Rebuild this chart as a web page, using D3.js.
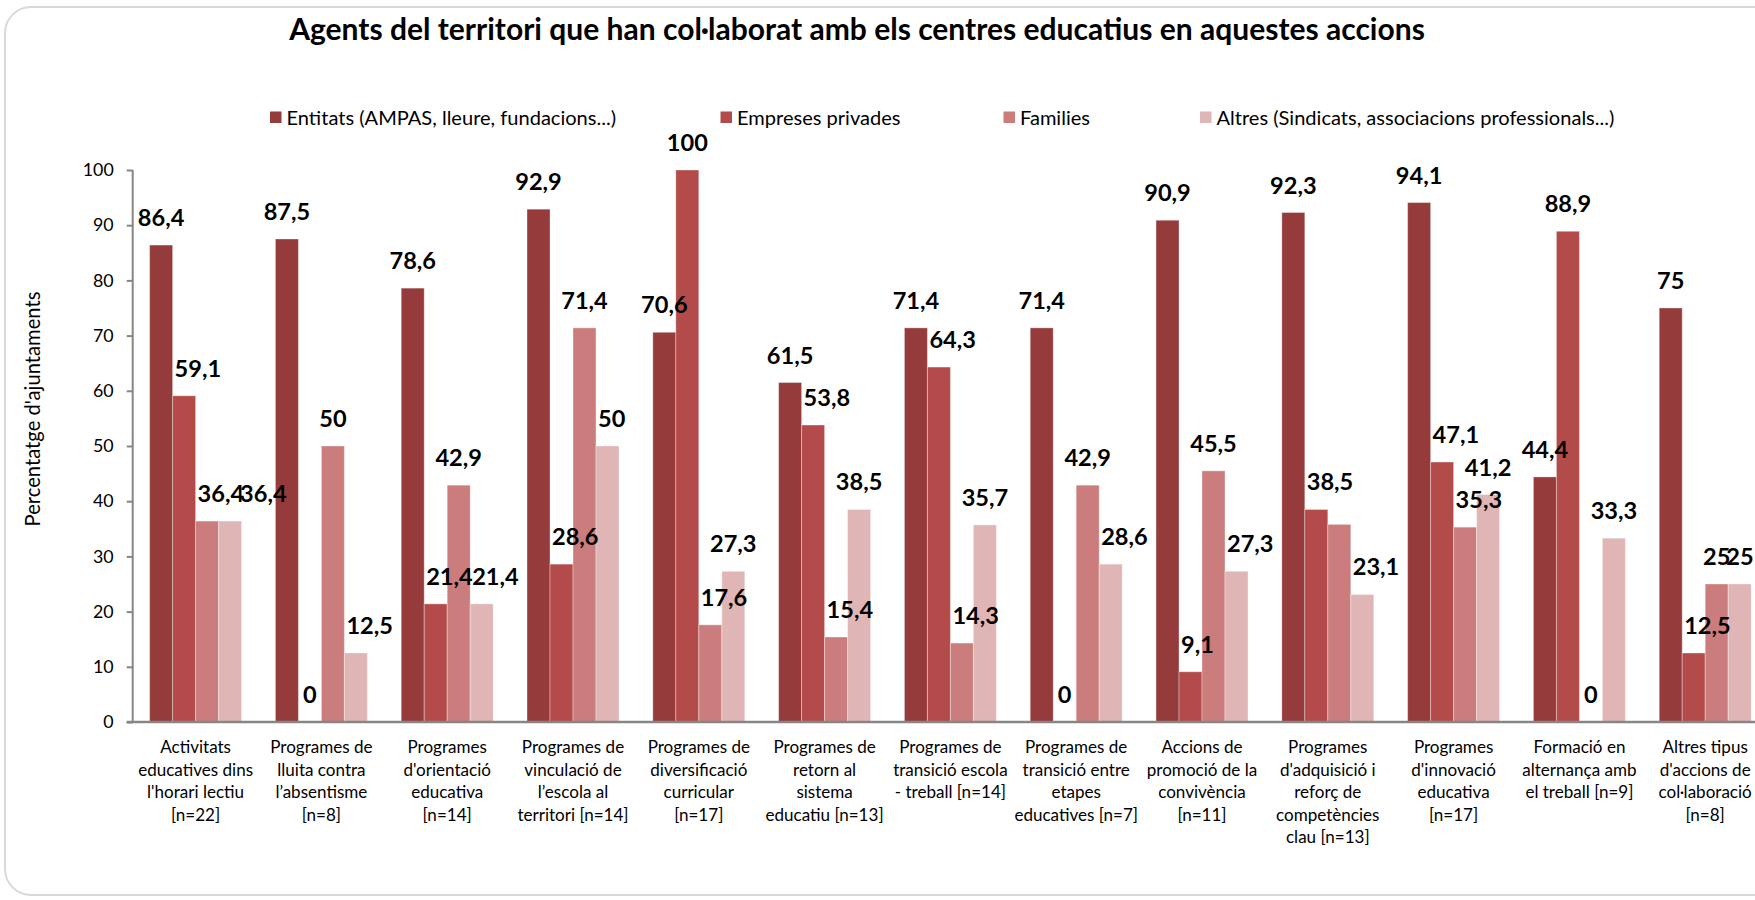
<!DOCTYPE html>
<html lang="ca">
<head>
<meta charset="utf-8">
<title>Agents del territori</title>
<script src="https://cdn.jsdelivr.net/npm/d3@7/dist/d3.min.js"></script>
<style>
  body { margin: 0; background: #fff; font-family: Lato, "Open Sans", sans-serif; }
  svg { display: block; background: #fff; }
</style>
</head>
<body>
<div id="chart"></div>
<script>
// --- data ---
var categories = [
  ["Activitats", "educatives dins", "l'horari lectiu", "[n=22]"],
  ["Programes de", "lluita contra", "l\u2019absentisme", "[n=8]"],
  ["Programes", "d'orientació", "educativa", "[n=14]"],
  ["Programes de", "vinculació de", "l\u2019escola al", "territori [n=14]"],
  ["Programes de", "diversificació", "curricular", "[n=17]"],
  ["Programes de", "retorn al", "sistema", "educatiu [n=13]"],
  ["Programes de", "transició escola", "- treball [n=14]"],
  ["Programes de", "transició entre", "etapes", "educatives [n=7]"],
  ["Accions de", "promoció de la", "convivència", "[n=11]"],
  ["Programes", "d'adquisició i", "reforç de", "competències", "clau [n=13]"],
  ["Programes", "d'innovació", "educativa", "[n=17]"],
  ["Formació en", "alternança amb", "el treball [n=9]"],
  ["Altres tipus", "d'accions de", "col·laboració", "[n=8]"]
];
var seriesNames = ["Entitats (AMPAS, lleure, fundacions...)", "Empreses privades", "Families",
                   "Altres (Sindicats, associacions professionals...)"];
var entitats = [86.4, 87.5, 78.6, 92.9, 70.6, 61.5, 71.4, 71.4, 90.9, 92.3, 94.1, 44.4, 75];
var empreses = [59.1, 0, 21.4, 28.6, 100, 53.8, 64.3, 0, 9.1, 38.5, 47.1, 88.9, 12.5];
var families = [36.4, 50, 42.9, 71.4, 17.6, 15.4, 14.3, 42.9, 45.5, 35.8, 35.3, 0, 25];
var altres   = [36.4, 12.5, 21.4, 50, 27.3, 38.5, 35.7, 28.6, 27.3, 23.1, 41.2, 33.3, 25];
var yTicks = [0, 10, 20, 30, 40, 50, 60, 70, 80, 90, 100];
// labels the original does not show (category-series)
var hiddenLabels = ["9-2"];

var colors = ["#953b3b", "#b24b49", "#ca7d7c", "#e0b5b5"];
var values = [entitats, empreses, families, altres];

var W = 1755, H = 900;
var plot = { left: 132.7, top: 170, bottom: 722, step: 125.8 };

var svg = d3.select("#chart").append("svg")
    .attr("width", W).attr("height", H);

// font size that gives a sample text the width it has in the original (Calibri there, Lato here)
function fitSize(sample, target, weight) {
  var t = svg.append("text").style("font-size", "20px")
      .style("font-weight", weight || "normal").text(sample);
  var w = t.node().getComputedTextLength();
  t.remove();
  return 20 * target / w;
}
var fsTitle = fitSize("Agents del territori que han col·laborat amb els centres educatius en aquestes accions", 1136, "bold");
var fsLegend = fitSize(seriesNames[3], 398, "normal");
var fsCat = fitSize("educatives dins", 115, "normal");
var fsTick = fitSize("100", 31, "normal");
var fsValue = fitSize("86,4", 46.5, "bold");
var fsYTitle = fitSize("Percentatge d'ajuntaments", 235, "normal");

// chart frame
svg.append("rect")
    .attr("x", 5).attr("y", 7)
    .attr("width", W + 40).attr("height", 888)
    .attr("rx", 26).attr("ry", 26)
    .attr("fill", "none").attr("stroke", "#d9d9d9").attr("stroke-width", 2);

// title
svg.append("text")
    .attr("x", 857).attr("y", 40)
    .attr("text-anchor", "middle")
    .style("font-weight", "bold")
    .style("font-size", fsTitle + "px")
    .text("Agents del territori que han col·laborat amb els centres educatius en aquestes accions");

// scales
var x0 = d3.scaleBand()
    .domain(d3.range(categories.length))
    .range([plot.left, plot.left + plot.step * categories.length])
    .paddingInner(0.269).paddingOuter(0.1345);
var x1 = d3.scaleBand()
    .domain(d3.range(seriesNames.length))
    .range([0, x0.bandwidth()]);
var y = d3.scaleLinear().domain([0, 100]).range([plot.bottom, plot.top]);

// legend
var legendX = [270, 720.5, 1003.5, 1200];
var legend = svg.append("g").selectAll("g")
    .data(seriesNames).enter().append("g")
    .attr("transform", function(d, i) { return "translate(" + legendX[i] + ",111.5)"; });
legend.append("rect").attr("width", 11.5).attr("height", 11.5)
    .attr("fill", function(d, i) { return colors[i]; });
legend.append("text").attr("x", 16.5).attr("y", 6).attr("dy", "0.35em")
    .style("font-size", fsLegend + "px").attr("fill", "#000")
    .text(function(d) { return d; });

// y axis
var yAxis = svg.append("g")
    .attr("transform", "translate(" + plot.left + ",0)")
    .call(d3.axisLeft(y).tickValues(yTicks).tickSize(6).tickPadding(13).tickFormat(d3.format("d")));
yAxis.select(".domain").attr("stroke", "#868686").attr("stroke-width", 2).attr("d", "M0," + y(100) + "V" + y(0));
yAxis.selectAll(".tick line").attr("stroke", "#868686").attr("stroke-width", 2);
yAxis.selectAll(".tick text").style("font-size", fsTick + "px")
    .style("font-family", "Lato, sans-serif").attr("fill", "#000");

svg.append("text")
    .attr("transform", "translate(40,409) rotate(-90)")
    .attr("text-anchor", "middle")
    .style("font-size", fsYTitle + "px")
    .text("Percentatge d'ajuntaments");

// bars
var rows = categories.map(function(c, i) {
  return values.map(function(s, k) { return { cat: i, ser: k, v: s[i] }; });
});
var groups = svg.append("g").selectAll("g")
    .data(rows).enter().append("g")
    .attr("transform", function(d, i) { return "translate(" + x0(i) + ",0)"; });
groups.selectAll("rect")
    .data(function(d) { return d; }).enter().append("rect")
    .attr("x", function(d) { return x1(d.ser); })
    .attr("width", x1.bandwidth())
    .attr("y", function(d) { return y(d.v); })
    .attr("height", function(d) { return y(0) - y(d.v); })
    .attr("fill", function(d) { return colors[d.ser]; })
    .attr("stroke", "rgba(255,255,255,0.35)").attr("stroke-width", 1);

// x axis baseline
svg.append("line")
    .attr("x1", plot.left - 6).attr("x2", W)
    .attr("y1", y(0)).attr("y2", y(0))
    .attr("stroke", "#868686").attr("stroke-width", 2.5);

// category labels
var catLabels = svg.append("g").selectAll("text")
    .data(categories).enter().append("text")
    .attr("x", function(d, i) { return x0(i) + x0.bandwidth() / 2; })
    .attr("y", 753)
    .attr("text-anchor", "middle")
    .style("font-size", fsCat + "px");
catLabels.selectAll("tspan")
    .data(function(d) { return d; }).enter().append("tspan")
    .attr("x", function() { return this.parentNode.getAttribute("x"); })
    .attr("dy", function(d, i) { return i ? 22.6 : 0; })
    .text(function(d) { return d; });

// value labels, nudged right when they would sit on the taller bar to their left
var fmt = function(v) { return String(v).replace(".", ","); };
rows.forEach(function(row, i) {
  var prevBox = null;
  row.forEach(function(d, k) {
    if (hiddenLabels.indexOf(i + "-" + k) >= 0) return;
    var cx = x0(i) + x1(k) + x1.bandwidth() / 2;
    var base = y(d.v) - 19;
    var t = svg.append("text")
        .attr("x", cx).attr("y", base)
        .attr("text-anchor", "middle")
        .style("font-size", fsValue + "px").style("font-weight", "bold")
        .text(fmt(d.v));
    var w = t.node().getComputedTextLength();
    var left = cx - w / 2;
    if (k > 0) {
      var p = row[k - 1];
      var prevRight = x0(i) + x1(k);
      if (y(p.v) < base + 4 && left < prevRight) left = prevRight + 2;
      if (prevBox && left < prevBox.right && Math.abs(prevBox.base - base) < 18) left = prevBox.right - 4;
    }
    t.attr("x", left + w / 2);
    prevBox = { right: left + w, base: base };
  });
});
</script>
</body>
</html>
